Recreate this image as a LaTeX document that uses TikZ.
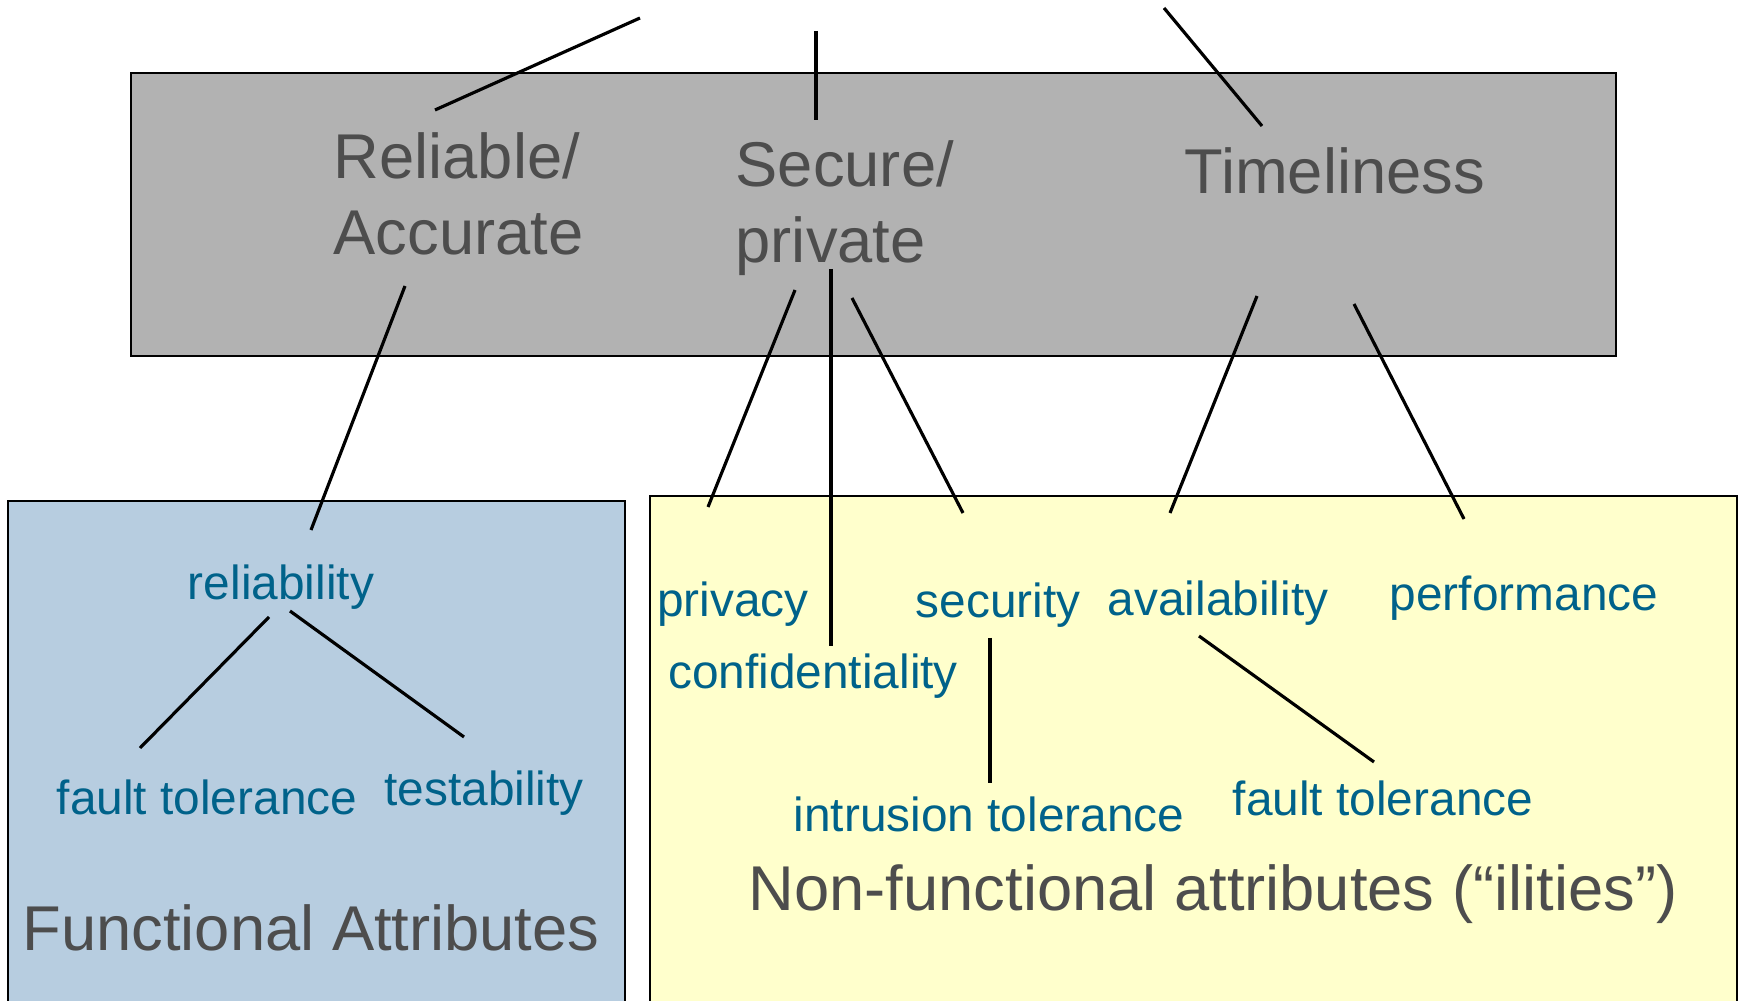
\documentclass[tikz,border=0pt]{standalone}
\usepackage{fontspec}
\setmainfont{Liberation Sans}
\usepackage{tikz}

\definecolor{boxgray}{HTML}{B2B2B2}
\definecolor{labelgray}{HTML}{4D4D4D}
\definecolor{funcblue}{HTML}{B7CDE0}
\definecolor{nfyellow}{HTML}{FFFFCC}
\definecolor{attrblue}{HTML}{00628A}

\begin{document}
\begin{tikzpicture}
    [x=0.01cm, y=-0.01cm,
     area/.style={draw=black, line width=0.6pt},
     big/.style={text=labelgray, inner sep=0pt, align=left, font=\fontsize{18}{21.6}\selectfont},
     attr/.style={text=attrblue, inner sep=0pt, font=\fontsize{13.6}{16}\selectfont},
     link/.style={line width=0.9pt}]
    \useasboundingbox (0,0) rectangle (1746,1001);
    % the three areas
    \fill[boxgray] (131,73) rectangle (1616,356);
    \draw[area] (131,73) rectangle (1616,356);
    \fill[funcblue] (8,501) rectangle (625,1010);
    \draw[area] (8,501) rectangle (625,1010);
    \fill[nfyellow] (650,496) rectangle (1737,1010);
    \draw[area] (650,496) rectangle (1737,1010);

    % top level qualities
    \node[big, anchor=west] (rel) at (333,194) {Reliable/\\Accurate};
    \node[big, anchor=west] (sec) at (735,208) {Secure/\\private};
    \node[big, anchor=west] (time) at (1184,171) {Timeliness};

    % attributes
    \node[attr] (reliab) at (281,587) {reliability};
    \node[attr] (ft1) at (207,797) {fault tolerance};
    \node[attr] (test) at (484,793) {testability};
    \node[attr] (priv) at (733,604) {privacy};
    \node[attr] (conf) at (813,676) {confidentiality};
    \node[attr] (secur) at (998,605) {security};
    \node[attr] (avail) at (1218,603) {availability};
    \node[attr] (perf) at (1524,598) {performance};
    \node[attr] (intr) at (989,814) {intrusion tolerance};
    \node[attr] (ft2) at (1383,798) {fault tolerance};

    \node[big] (func) at (311,928) {Functional Attributes};
    \node[big] (nonfunc) at (1213,894) {Non-functional attributes (“ilities”)};

    % line ends
    \coordinate (up1) at (640,18);
    \coordinate (up2) at (816,31);
    \coordinate (up3) at (1164,8);
    \coordinate (rel-t) at (435,110);
    \coordinate (sec-t) at (816,120);
    \coordinate (time-t) at (1262,126);
    \coordinate (rel-b) at (405,286);
    \coordinate (reliab-t) at (311,530);
    \coordinate (sec-b1) at (795,290);
    \coordinate (priv-t) at (708,507);
    \coordinate (sec-b2) at (831,269);
    \coordinate (conf-t) at (831,646);
    \coordinate (sec-b3) at (852,298);
    \coordinate (secur-t) at (963,513);
    \coordinate (time-b1) at (1257,296);
    \coordinate (avail-t) at (1170,513);
    \coordinate (time-b2) at (1354,304);
    \coordinate (perf-t) at (1464,519);
    \coordinate (reliab-b1) at (269,617);
    \coordinate (ft1-t) at (140,748);
    \coordinate (reliab-b2) at (290,611);
    \coordinate (test-t) at (464,737);
    \coordinate (secur-b) at (990,638);
    \coordinate (intr-t) at (990,783);
    \coordinate (avail-b) at (1199,636);
    \coordinate (ft2-t) at (1374,762);

    \draw[link] (up1) -- (rel-t);
    \draw[link] (up2) -- (sec-t);
    \draw[link] (up3) -- (time-t);
    \draw[link] (rel-b) -- (reliab-t);
    \draw[link] (sec-b1) -- (priv-t);
    \draw[link] (sec-b2) -- (conf-t);
    \draw[link] (sec-b3) -- (secur-t);
    \draw[link] (time-b1) -- (avail-t);
    \draw[link] (time-b2) -- (perf-t);
    \draw[link] (reliab-b1) -- (ft1-t);
    \draw[link] (reliab-b2) -- (test-t);
    \draw[link] (secur-b) -- (intr-t);
    \draw[link] (avail-b) -- (ft2-t);
\end{tikzpicture}
\end{document}
